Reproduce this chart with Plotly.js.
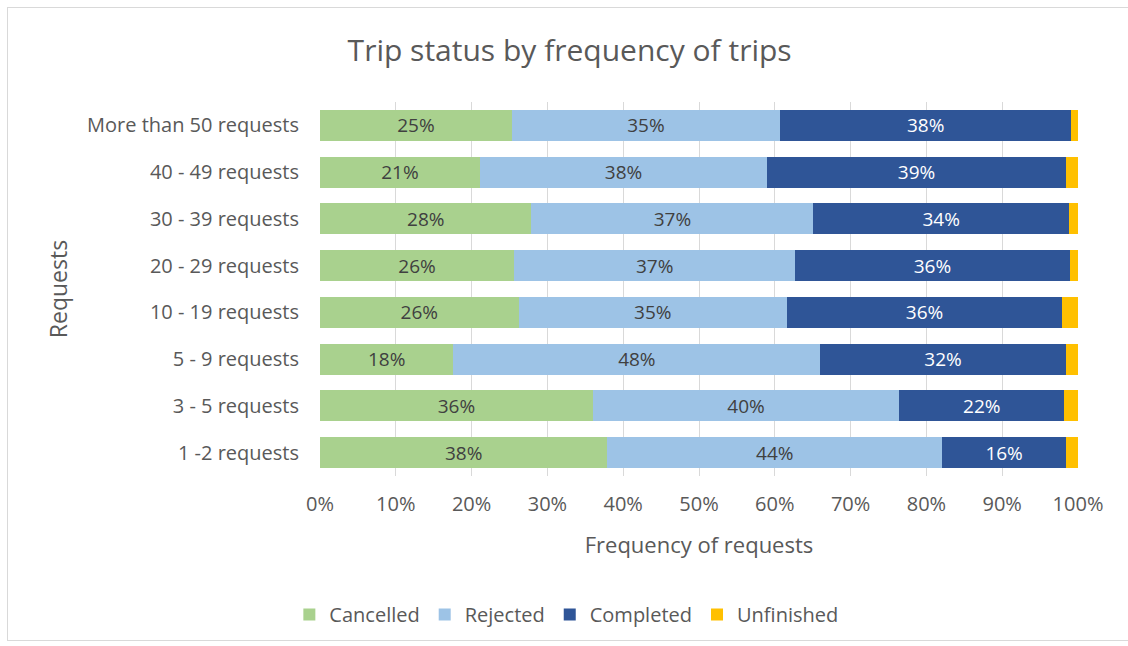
<!DOCTYPE html>
<html>
<head>
<meta charset="utf-8">
<script src="https://cdn.plot.ly/plotly-3.0.1.min.js"></script>
<style>
  html, body { margin: 0; padding: 0; background: #ffffff; }
  #chart { position: absolute; left: 0; top: 0; width: 1128px; height: 646px; }
  #frame { position: absolute; left: 7px; top: 7px; width: 1125px; height: 632px; border: 1px solid #d9d9d9; pointer-events: none; }
</style>
</head>
<body>
<div id="chart"></div>
<div id="frame"></div>
<script>
const categories = ["1 -2 requests", "3 - 5 requests", "5 - 9 requests", "10 - 19 requests",
                    "20 - 29 requests", "30 - 39 requests", "40 - 49 requests", "More than 50 requests"];
const cancelled  = [37.9, 36.0, 17.6, 26.2, 25.6, 27.9, 21.1, 25.3];
const rejected   = [44.2, 40.4, 48.4, 35.4, 37.1, 37.2, 37.9, 35.4];
const completed  = [16.3, 21.8, 32.4, 36.3, 36.2, 33.7, 39.4, 38.4];
const unfinished = [1.6, 1.8, 1.6, 2.1, 1.1, 1.2, 1.6, 0.9];
const xTicks = [0, 10, 20, 30, 40, 50, 60, 70, 80, 90, 100];

const FONT = "'Open Sans', 'Noto Sans', sans-serif";
const GRAY = "#595959";

function series(name, vals, color, textColor, showText) {
  return {
    type: "bar", orientation: "h", name: name,
    y: categories, x: vals,
    marker: { color: color },
    text: showText ? vals.map(v => Math.round(v) + "%") : undefined,
    texttemplate: showText ? "%{text}" : "",
    textposition: showText ? "inside" : "none",
    insidetextanchor: "middle",
    textangle: 0,
    constraintext: "none",
    insidetextfont: { family: FONT, size: 19, color: textColor },
    hoverinfo: "x+name"
  };
}

const data = [
  series("Cancelled", cancelled, "#a9d18e", "#404040", true),
  series("Rejected", rejected, "#9dc3e6", "#404040", true),
  series("Completed", completed, "#2f5597", "#ffffff", true),
  series("Unfinished", unfinished, "#ffc000", "#404040", false)
];

const layout = {
  width: 1128, height: 646,
  paper_bgcolor: "rgba(0,0,0,0)", plot_bgcolor: "#ffffff",
  barmode: "stack", bargap: 0.34,
  margin: { l: 320, r: 50, t: 102, b: 170 },
  font: { family: FONT, color: GRAY, size: 19 },
  title: { text: "Trip status by frequency of trips", x: 0.505, xanchor: "center", y: 0.922, yanchor: "middle",
           font: { family: FONT, size: 30, color: GRAY } },
  xaxis: {
    range: [0, 100], tickvals: xTicks, ticktext: xTicks.map(v => v + "%"),
    showgrid: true, gridcolor: "#d9d9d9", gridwidth: 1, zeroline: false,
    showline: false, ticks: "", ticklabelstandoff: 14,
    tickfont: { family: FONT, size: 20, color: GRAY },
    title: { text: "Frequency of requests", standoff: 21, font: { family: FONT, size: 22, color: GRAY } },
    fixedrange: true
  },
  yaxis: {
    type: "category", categoryorder: "array", categoryarray: categories,
    showgrid: false, zeroline: false, showline: false, ticks: "", ticklabelstandoff: 20,
    tickfont: { family: FONT, size: 20, color: GRAY },
    title: { text: "Requests", standoff: 12, font: { family: FONT, size: 23, color: GRAY } },
    fixedrange: true
  },
  showlegend: true,
  legend: {
    orientation: "h", x: 0.325, xanchor: "center", y: -0.37, yanchor: "middle",
    font: { family: FONT, size: 20, color: GRAY }, traceorder: "normal",
    itemwidth: 30, tracegroupgap: 0
  }
};

Plotly.newPlot("chart", data, layout, { displayModeBar: false, staticPlot: true });
</script>
</body>
</html>
